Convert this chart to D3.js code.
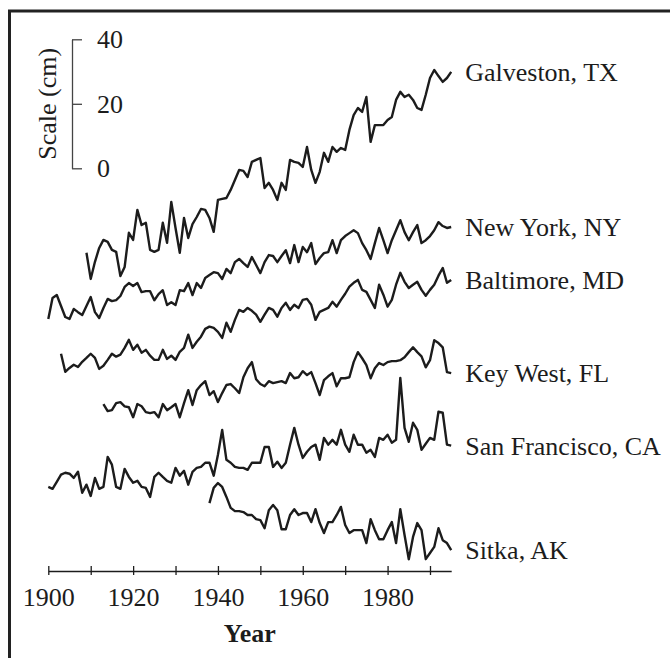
<!DOCTYPE html>
<html>
<head>
<meta charset="utf-8">
<title>Sea level at six U.S. tide gauges</title>
<script src="https://cdn.jsdelivr.net/npm/d3@7"></script>
<style>
    body { margin: 0; background: #fff; }
    svg { display: block; font-family: 'Liberation Serif', 'Times New Roman', serif; }
</style>
</head>
<body>
<svg id="chart" width="670" height="658"></svg>
<script>
// Annual mean sea level (cm); each station is shifted by its offset
const stations = ['Galveston, TX', 'New York, NY', 'Baltimore, MD', 'Key West, FL', 'San Francisco, CA', 'Sitka, AK'];
const startYears = [1909, 1900, 1903, 1913, 1900, 1938];
const offsets = [-30, -50, -60, -75, -100, -110];

const galveston = [3.8,
    -4.3, 1.0, 5.3, 7.8, 7.2, 4.7, 4.1, -3.4, -0.6, 10.0,
    7.8, 17.1, 12.4, 13.1, 4.7, 4.1, 4.7, 13.1, 6.9, 19.6,
    11.5, 3.8, 14.6, 8.4, 12.7, 14.9, 17.4, 17.1, 14.6, 10.3,
    20.2, 20.5, 20.8, 23.3, 26.4, 29.5, 29.2, 27.3, 32.0, 32.6,
    33.2, 23.9, 25.5, 23.3, 20.2, 25.5, 23.3, 32.6, 32.0, 31.7,
    30.4, 36.6, 29.5, 25.5, 28.9, 34.8, 32.0, 36.6, 35.1, 36.3,
    35.7, 41.9, 46.5, 48.7, 47.5, 52.1, 38.2, 43.4, 43.4, 43.4,
    45.0, 45.9, 51.2, 53.7, 52.1, 52.8, 51.2, 48.7, 48.1, 52.8,
    58.0, 60.5, 58.6, 56.8, 58.0, 59.9];

const newYork = [3.3, 9.8, 10.7, 7.3, 3.9, 3.3, 6.4, 5.4, 4.5, 7.3,
    10.1, 5.4, 3.6, 6.7, 9.5, 8.8, 9.1, 10.4, 13.2, 14.4,
    13.5, 14.4, 11.6, 11.9, 11.9, 9.1, 11.0, 12.2, 7.6, 8.5,
    7.6, 12.2, 11.9, 14.4, 10.7, 14.4, 12.9, 16.0, 16.9, 17.8,
    17.5, 15.7, 18.8, 17.5, 20.9, 21.9, 20.6, 19.4, 22.5, 20.0,
    17.5, 20.9, 23.1, 22.8, 20.9, 22.8, 24.6, 20.6, 26.2, 20.9,
    25.6, 24.0, 26.8, 20.3, 22.2, 23.7, 24.0, 27.7, 23.7, 27.7,
    29.0, 29.9, 30.8, 29.9, 26.8, 24.6, 21.9, 26.8, 31.5, 27.7,
    23.7, 27.7, 30.8, 33.9, 30.2, 27.7, 30.2, 32.4, 26.8, 27.7,
    29.0, 30.8, 33.3, 32.1, 31.5, 31.8];

const baltimore = [2.5, -3.1, -1.9, -0.9, -1.6, 0.0, 1.2,
    2.5, 1.2, -2.2, -1.2, 0.6, 2.5, 1.6, 2.2, 4.3, 6.8,
    3.7, 5.3, 2.8, 3.7, 1.9, 0.6, 0.6, 3.7, 0.9, 1.9,
    0.6, 3.1, 4.3, 8.4, 4.3, 6.2, 7.8, 10.2, 10.9, 10.5,
    9.3, 7.4, 12.1, 9.3, 13.0, 16.1, 15.5, 16.7, 15.8, 14.6,
    12.4, 14.6, 16.7, 16.1, 14.0, 16.7, 18.3, 16.1, 17.7, 16.7,
    19.2, 19.5, 17.7, 13.0, 15.5, 16.1, 16.7, 18.6, 17.1, 19.2,
    21.1, 23.3, 24.5, 25.4, 22.3, 21.7, 19.2, 16.7, 23.9, 20.8,
    17.1, 19.2, 23.9, 27.6, 24.8, 22.9, 23.9, 24.8, 22.3, 20.5,
    22.3, 23.9, 26.7, 29.1, 24.5, 25.4];

const keyWest = [1.9, -0.3, 0.0, 2.2, 2.5, 1.2, 0.9,
    -2.2, 1.9, 1.2, -0.6, -0.9, -0.6, -2.2, 1.9, 0.0, 0.9,
    1.9, -2.2, 2.2, 6.2, 1.6, 6.2, 7.8, 9.0, 4.7, 5.9,
    2.5, 5.3, 7.8, 8.1, 6.8, 5.3, 10.2, 13.0, 14.9, 9.6,
    8.1, 7.4, 9.0, 8.4, 8.7, 9.0, 8.4, 11.5, 9.9, 10.2,
    12.1, 10.9, 11.8, 8.4, 4.7, 9.3, 10.5, 11.5, 7.4, 9.9,
    9.9, 10.2, 14.9, 18.0, 16.1, 14.0, 9.9, 13.0, 14.6, 14.0,
    14.9, 15.2, 15.2, 15.5, 16.4, 18.0, 19.5, 18.0, 16.7, 13.3,
    15.5, 21.7, 20.8, 19.5, 11.8, 11.5];

const sanFrancisco = [1.2, 0.6, 2.8, 5.0, 5.6, 5.3, 4.0, 5.9, -0.6, 1.9,
    -1.6, 4.0, 0.6, 1.2, 10.5, 8.1, 1.2, 0.6, 6.8, 4.3,
    2.5, 3.1, 1.2, 0.9, -1.9, 4.3, 5.6, 4.3, 3.1, 2.5,
    7.1, 4.7, 6.2, 1.9, 5.9, 7.1, 7.4, 8.7, 8.7, 4.7,
    11.2, 18.9, 9.6, 8.7, 7.4, 7.1, 7.1, 6.5, 8.7, 8.7,
    8.7, 13.6, 13.6, 7.4, 9.0, 7.1, 8.7, 14.3, 19.5, 14.3,
    10.2, 12.1, 13.6, 14.3, 9.6, 16.4, 14.3, 15.8, 14.3, 18.9,
    14.3, 12.1, 17.4, 14.3, 14.3, 11.8, 12.7, 10.5, 16.4, 15.8,
    17.4, 14.9, 15.8, 35.0, 19.5, 15.2, 21.1, 18.9, 12.7, 14.6,
    16.4, 15.8, 24.5, 24.2, 14.3, 14.0];

const sitka = [6.2, 10.9,
    12.4, 11.2, 8.1, 4.7, 3.7, 3.7, 3.4, 2.5, 2.5, 1.2,
    0.9, -1.6, 4.0, 5.6, 4.0, -1.9, -1.9, 2.5, 4.3, 2.5,
    3.1, 3.1, 0.3, 4.3, 0.0, -3.1, 0.3, 0.3, 2.5, 5.0,
    -0.6, -3.1, -2.2, -2.2, -2.2, -6.2, 1.2, -2.2, -5.0, -5.0,
    -2.2, 0.3, -6.2, 4.3, -3.7, -11.2, -4.3, 0.0, -2.2, -11.2,
    -9.3, -7.4, -1.6, -5.3, -6.2, -8.4];

const seriesValues = [galveston, newYork, baltimore, keyWest, sanFrancisco, sitka];

const yearTicks = [1900, 1910, 1920, 1930, 1940, 1950, 1960, 1970, 1980, 1990];
const yearLabels = [1900, 1920, 1940, 1960, 1980];
const scaleTicks = [0, 20, 40];

class SeaLevelChart {
    constructor(selector) {
        this.svg = d3.select(selector);
        this.ink = '#1c1c1c';
        this.font = 26;

        this.x = d3.scaleLinear().domain([1900, 1995]).range([48.3, 451.2]);
        this.y = d3.scaleLinear().domain([0, 40]).range([168.3, 39.3]);
        this.axisY = 571;

        this.drawFrame();
        this.drawScaleBar();
        this.drawSeries();
        this.drawXAxis();
    }

    drawFrame() {
        // only the top and left edges fall inside the picture
        this.svg.append('rect')
            .attr('x', 9.5)
            .attr('y', 11)
            .attr('width', 700)
            .attr('height', 700)
            .attr('fill', 'none')
            .attr('stroke', '#222')
            .attr('stroke-width', 3);
    }

    drawScaleBar() {
        const axis = d3.axisRight(this.y)
            .tickValues(scaleTicks)
            .tickSize(10)
            .tickSizeOuter(0)
            .tickPadding(15);

        const g = this.svg.append('g')
            .attr('transform', 'translate(72,0)')
            .call(axis)
            .attr('font-family', null)
            .attr('font-size', this.font);

        g.select('.domain').attr('stroke', '#444').attr('stroke-width', 1.3);
        g.selectAll('.tick line').attr('stroke', '#444').attr('stroke-width', 1.3);
        g.selectAll('.tick text').attr('fill', this.ink);

        this.svg.append('text')
            .attr('transform', `translate(56,${this.y(20)}) rotate(-90)`)
            .attr('text-anchor', 'middle')
            .attr('font-size', this.font)
            .attr('fill', this.ink)
            .text('Scale (cm)');
    }

    drawSeries() {
        const line = d3.line()
            .x(d => this.x(d.year))
            .y(d => this.y(d.value));

        stations.forEach((name, i) => {
            const points = seriesValues[i].map((v, k) => ({
                year: startYears[i] + k,
                value: v + offsets[i]
            }));

            this.svg.append('path')
                .datum(points)
                .attr('d', line)
                .attr('fill', 'none')
                .attr('stroke', this.ink)
                .attr('stroke-width', 2.4)
                .attr('stroke-linejoin', 'round');

            const last = points[points.length - 1];
            this.svg.append('text')
                .attr('x', this.x(1995) + 14)
                .attr('y', this.y(last.value))
                .attr('dy', '0.35em')
                .attr('font-size', this.font)
                .attr('fill', this.ink)
                .text(name);
        });
    }

    drawXAxis() {
        const axis = d3.axisBottom(this.x)
            .tickValues(yearTicks)
            .tickSize(4)
            .tickSizeOuter(0)
            .tickFormat(d => yearLabels.includes(d) ? d : '');

        const g = this.svg.append('g')
            .attr('transform', `translate(0,${this.axisY})`)
            .call(axis)
            .attr('font-family', null)
            .attr('font-size', this.font);

        g.select('.domain').attr('stroke', this.ink).attr('stroke-width', 1.5);
        g.selectAll('.tick line')
            .attr('y1', -5)
            .attr('stroke', this.ink)
            .attr('stroke-width', 1.3);
        g.selectAll('.tick text')
            .attr('y', 35)
            .attr('dy', null)
            .attr('fill', this.ink);

        this.svg.append('text')
            .attr('x', (this.x(1900) + this.x(1995)) / 2)
            .attr('y', this.axisY + 71)
            .attr('text-anchor', 'middle')
            .attr('font-size', this.font)
            .attr('font-weight', 'bold')
            .attr('fill', this.ink)
            .text('Year');
    }
}

let chart;
document.addEventListener('DOMContentLoaded', () => {
    chart = new SeaLevelChart('#chart');
});
</script>
</body>
</html>
